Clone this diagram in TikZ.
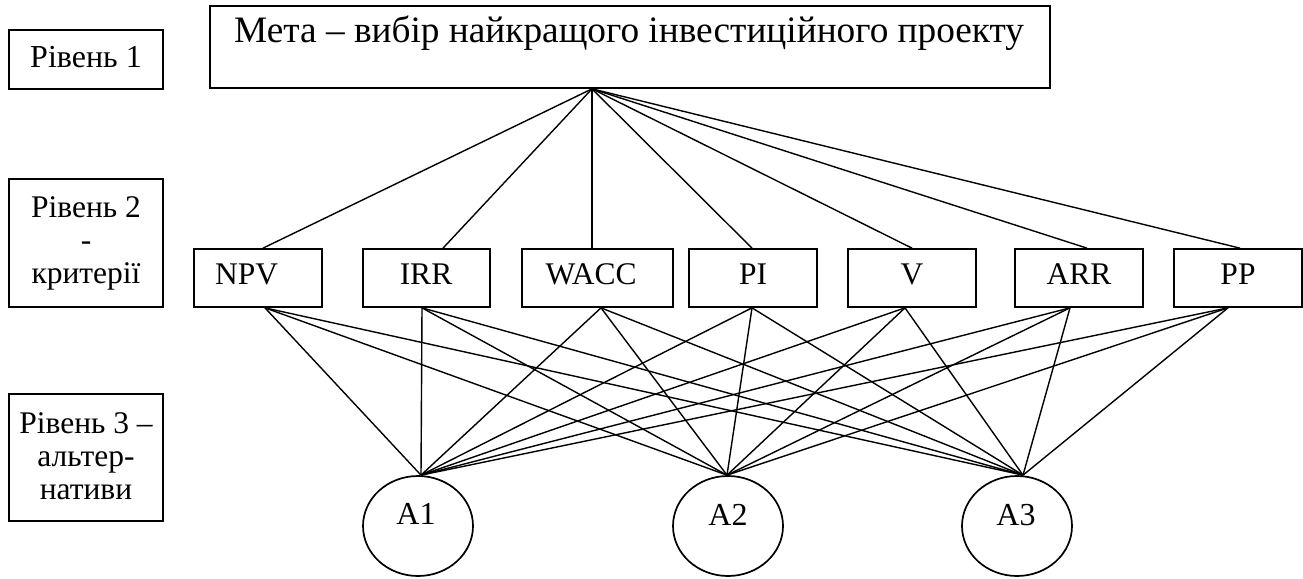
\documentclass[tikz,border=0pt]{standalone}
\usepackage{fontspec}
\setmainfont{Liberation Serif}
\usetikzlibrary{shapes.geometric}
\begin{document}
\begin{tikzpicture}[x=1pt,y=-1pt,
  box/.style={draw,line width=1.7pt,rectangle,inner sep=0pt},
  alt/.style={draw,line width=1.7pt,ellipse,inner sep=0pt,minimum width=110pt,minimum height=100pt},
  crit/.style={box,minimum width=128pt,minimum height=58pt},
  lvl/.style={box,minimum width=154pt},
  txt/.style={inner sep=0pt,font=\fontsize{31.5}{30}\selectfont},
  conn/.style={line width=1.4pt}]
\useasboundingbox (0,0) rectangle (1303,578);
% level boxes
\node[lvl,minimum height=59pt] (lvl1) at (86,59.5) {};
\node[lvl,minimum height=128pt] (lvl2) at (86,243) {};
\node[lvl,minimum height=127pt] (lvl3) at (86,457.5) {};
\node[txt,anchor=base,font=\fontsize{32}{30}\selectfont] (lvl1t) at (86,67) {Рівень 1};
\node[txt,align=center,anchor=north] (lvl2t) at (86,196) {Рівень 2\\[3pt]-\\[3pt]критерії};
\node[txt,align=center,anchor=north] (lvl3t) at (86,412) {Рівень 3 –\\[3pt]альтер-\\[3pt]нативи};
% goal
\node[box,minimum width=840pt,minimum height=82pt] (goal) at (630,47) {};
\node[txt,anchor=base west,font=\fontsize{37.3}{36}\selectfont] (goalt) at (234,43) {Мета – вибір найкращого інвестиційного проекту};
% criteria
\node[crit] (npv) at (258,278) {};
\node[crit,minimum width=127pt] (irr) at (426.5,278) {};
\node[crit,minimum width=151pt] (wacc) at (597.5,278) {};
\node[crit] (pi) at (753,278) {};
\node[crit] (v) at (912,278) {};
\node[crit] (arr) at (1079,278) {};
\node[crit] (pp) at (1238,278) {};
\node[txt,anchor=base west] (npvt) at (215,284) {NPV};
\node[txt,anchor=base] (irrt) at (426,284) {IRR};
\node[txt,anchor=base] (wacct) at (591,284) {WACC};
\node[txt,anchor=base] (pit) at (753,284) {PI};
\node[txt,anchor=base] (vt) at (912,284) {V};
\node[txt,anchor=base] (arrt) at (1079,284) {ARR};
\node[txt,anchor=base] (ppt) at (1238,284) {PP};
% alternatives
\node[alt] (a1) at (418,526) {};
\node[alt] (a2) at (728,526) {};
\node[alt] (a3) at (1017,526) {};
\node[txt,anchor=base,font=\fontsize{32}{30}\selectfont] (a1t) at (416,524) {A1};
\node[txt,anchor=base,font=\fontsize{32}{30}\selectfont] (a2t) at (728,525) {A2};
\node[txt,anchor=base,font=\fontsize{32}{30}\selectfont] (a3t) at (1016,525) {A3};
% connection points
\coordinate (apex) at ([xshift=-38pt]goal.south);
\coordinate (npvT) at ([xshift=5pt]npv.north);
\coordinate (irrT) at ([xshift=16.5pt]irr.north);
\coordinate (waccT) at ([xshift=-5.5pt]wacc.north);
\coordinate (piT) at ([xshift=-1pt]pi.north);
\coordinate (vT) at (v.north);
\coordinate (arrT) at ([xshift=8pt]arr.north);
\coordinate (ppT) at ([xshift=2pt]pp.north);
\coordinate (npvB) at ([xshift=7pt]npv.south);
\coordinate (irrB) at ([xshift=-4.5pt]irr.south);
\coordinate (waccB) at ([xshift=3.5pt]wacc.south);
\coordinate (piB) at ([xshift=-1pt]pi.south);
\coordinate (vB) at ([xshift=-7pt]v.south);
\coordinate (arrB) at ([xshift=-9pt]arr.south);
\coordinate (ppB) at ([xshift=-10pt]pp.south);
\coordinate (a1T) at ([xshift=3pt]a1.north);
\coordinate (a2T) at ([xshift=-1pt]a2.north);
\coordinate (a3T) at ([xshift=6pt]a3.north);
% goal to criteria
\foreach \c in {npvT,irrT,waccT,piT,vT,arrT,ppT}{\draw[conn] (apex) -- (\c);}
% criteria to alternatives
\foreach \c in {npvB,irrB,waccB,piB,vB,arrB,ppB}{
  \foreach \a in {a1T,a2T,a3T}{\draw[conn] (\c) -- (\a);}}
\end{tikzpicture}
\end{document}
